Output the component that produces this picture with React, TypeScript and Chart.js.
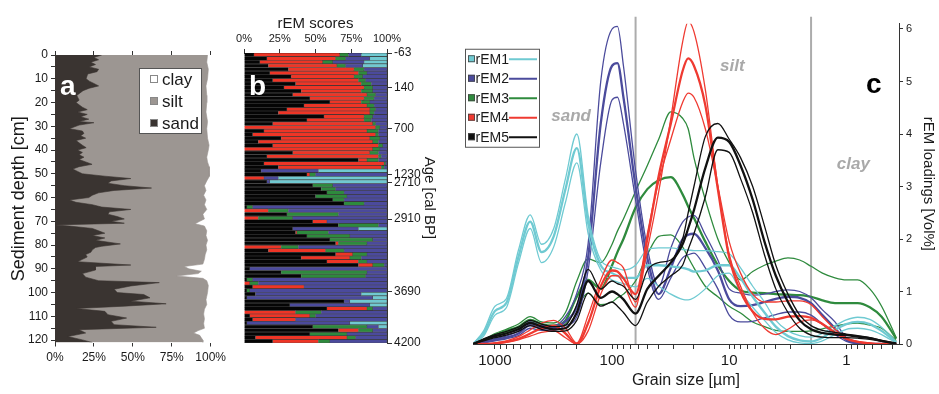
import React, { useEffect, useRef } from 'react';
import { Chart, registerables } from 'chart.js';

Chart.register(...registerables);

const FONT = "'Liberation Sans', Arial, Helvetica, sans-serif";
const AXIS = '#333333';
const TEXT = '#1a1a1a';

// ---------- a: sand / silt / clay down the core ----------
const SAND = '#3a3431';
const SILT = '#9c9692';
const fractionNames = ['clay', 'silt', 'sand'];

const sandDepth = [0, 1, 2, 3, 4, 5, 6, 7, 8, 10, 11, 12, 13, 14, 15, 17, 19, 20, 22, 23, 24, 25, 26, 27, 28, 28.5, 29.5, 31, 32, 33, 34, 35, 36, 38, 39, 40, 41, 42, 43, 44, 45, 46, 47, 48, 49, 50, 51, 52, 53, 54, 55, 56, 57, 58, 59, 60, 61, 62, 63, 64, 65, 66, 67, 68, 69, 70, 70.8, 71.5, 72, 73, 74, 75, 76, 77, 78, 79.5, 80.5, 81, 82, 83, 84, 85, 86, 87, 88.4, 89, 90.5, 92, 93.5, 95, 95.8, 97.2, 98.6, 100, 100.8, 102.2, 103.6, 104.7, 105.7, 106.7, 107.9, 109.3, 110.7, 112.1, 113.5, 114.6, 115.6, 117, 118.5, 119.9, 121];
const sandPct = [30, 25, 28, 23, 26, 22, 28, 27, 21, 20, 22, 25, 28, 22, 18, 14, 15.5, 13.5, 17.6, 20.7, 14.5, 20.7, 16.5, 21.7, 15.5, 25, 15.5, 9.3, 17.6, 18.6, 16.5, 19.7, 13.5, 17.6, 20, 14.5, 17.6, 15.5, 18.6, 15.5, 19.7, 23.8, 15.5, 11.4, 14.5, 17.6, 32, 48.7, 36, 34, 44.5, 62, 38, 28, 24, 21.7, 9.3, 13.5, 24, 30, 48.7, 35, 34, 40, 44.5, 36, 44.5, 0, 9.3, 24, 28, 32, 24, 32, 26, 42, 30, 26, 24, 23, 19.7, 20.7, 17.6, 14.5, 48.7, 26, 26, 17.6, 19.7, 28, 67, 48.7, 38, 40, 57, 61, 48.7, 71.4, 44.5, 13.5, 32, 34, 46, 36, 38, 65, 15.5, 19.7, 8.3, 17.6, 24];

const finesDepth = [0, 3, 6, 10, 13, 17, 20, 24, 28, 31, 35, 38, 40, 43, 45, 47, 49, 51, 53, 55, 57, 59, 61, 63, 65, 67, 69, 70, 71, 72, 74, 76, 78, 80, 82, 84, 86, 88, 89, 90, 91, 92, 93, 94, 95, 97, 100, 103, 105, 107, 109, 111, 113, 115, 116, 117, 118, 119, 120, 121];
const sandSiltPct = [98, 97.5, 98.5, 98, 97, 97.5, 97.5, 97, 98, 97.5, 98, 99, 98.5, 97.5, 98, 99, 99.5, 99, 97.5, 96, 97, 95.5, 97, 96, 97.5, 95, 96, 93, 90, 96, 97.5, 97, 98, 97, 97.5, 96.5, 96, 95, 83, 86, 94, 92, 78, 95, 97.5, 98.5, 98, 97, 97.5, 96, 95.5, 96, 95.5, 96, 92, 89, 93, 94, 95, 95];

// ---------- b: rEM scores per sample ----------
const SCORE_COLORS = ['#050505', '#ee3526', '#2e8a3d', '#4b4a9c', '#70c9d1'];
const rem5Score = [7, 16, 11, 17, 31, 18, 33, 20, 36, 28, 40, 34, 46, 60, 42, 30, 24, 56, 44, 20, 0, 14, 6, 26, 10, 20, 0, 34, 16, 80, 14, 24, 12, 44, 0, 16, 48, 54, 58, 50, 62, 70, 2, 0, 30, 0, 48, 66, 34, 36, 44, 60, 64, 0, 17, 64, 40, 58, 80, 4, 26, 40, 2, 0, 6, 2, 8, 2, 70, 32, 58, 0, 4, 6, 2, 48, 66, 46, 8, 20];
const rem4Score = [60, 48, 44, 48, 46, 62, 44, 60, 46, 56, 42, 52, 38, 22, 44, 58, 64, 28, 40, 70, 92, 72, 86, 62, 80, 74, 90, 54, 78, 6, 84, 72, 0, 2, 14, 0, 0, 0, 0, 0, 0, 0, 0, 17, 0, 10, 10, 0, 0, 1, 0, 0, 2, 26, 40, 12, 34, 22, 10, 0, 0, 0, 0, 4, 36, 0, 0, 0, 0, 0, 28, 36, 42, 30, 0, 0, 14, 0, 64, 32];
const rem3Score = [6, 7, 7, 6, 7, 6, 6, 5, 7, 6, 8, 6, 7, 6, 5, 4, 3, 6, 5, 2, 3, 8, 2, 7, 4, 3, 5, 6, 2, 8, 1, 2, 0, 4, 0, 0, 14, 10, 12, 22, 8, 14, 4, 14, 36, 24, 0, 28, 0, 22, 30, 30, 20, 12, 13, 10, 8, 6, 8, 0, 60, 45, 4, 6, 0, 2, 0, 0, 0, 0, 4, 18, 4, 0, 0, 38, 10, 26, 6, 8];
const rem2Score = [9, 17, 22, 12, 16, 14, 17, 15, 11, 10, 10, 8, 9, 12, 9, 8, 9, 10, 11, 8, 5, 6, 6, 5, 6, 3, 5, 6, 4, 6, 1, 2, 40, 50, 10, 2, 38, 36, 30, 28, 30, 16, 94, 69, 34, 66, 42, 6, 46, 41, 26, 10, 14, 62, 30, 14, 18, 14, 2, 96, 14, 15, 94, 90, 58, 96, 74, 88, 4, 56, 10, 46, 50, 64, 72, 8, 10, 28, 22, 40];
const rem1Score = [18, 12, 16, 17, 0, 0, 0, 0, 0, 0, 0, 0, 0, 0, 0, 0, 0, 0, 0, 0, 0, 0, 0, 0, 0, 0, 0, 0, 0, 0, 0, 0, 48, 0, 76, 82, 0, 0, 0, 0, 0, 0, 0, 0, 0, 0, 0, 0, 20, 0, 0, 0, 0, 0, 0, 0, 0, 0, 0, 0, 0, 0, 0, 0, 0, 0, 18, 10, 26, 12, 0, 0, 0, 0, 26, 6, 0, 0, 0, 0];
const ageLabels = ['-63', '140', '700', '1230', '2710', '2910', '3690', '4200'];
const ageDepth = [0, 14.6, 31.7, 50.9, 54.2, 69.3, 99.7, 121];

// ---------- c: rEM loadings (mean with upper and lower bounds) ----------
const grainSize = [1540, 1250, 1000, 800, 630, 500, 400, 315, 250, 200, 160, 125, 100, 90, 80, 63, 50, 40, 31.5, 25, 22.4, 20, 16, 12.5, 10, 8, 6.3, 5, 4, 3.15, 2.5, 2, 1.6, 1.25, 1, 0.8, 0.63, 0.5, 0.375];

const rem1Upper = [0, 0.25, 0.72, 0.86, 1.79, 2.46, 1.9, 2.2, 3.15, 4.0, 2.45, 1.6, 1.47, 1.44, 1.41, 1.5, 1.8, 1.83, 1.83, 1.8, 1.79, 1.78, 1.78, 1.76, 1.72, 1.45, 1.1, 0.8, 0.45, 0.25, 0.16, 0.13, 0.2, 0.35, 0.46, 0.51, 0.47, 0.32, 0.04];
const rem1Mean = [0, 0.2, 0.63, 0.78, 1.66, 2.33, 1.75, 2.05, 2.95, 3.73, 2.3, 1.5, 1.35, 1.3, 1.26, 1.26, 1.5, 1.5, 1.48, 1.45, 1.42, 1.38, 1.4, 1.5, 1.5, 1.25, 0.9, 0.6, 0.33, 0.15, 0.07, 0.05, 0.12, 0.27, 0.38, 0.42, 0.38, 0.25, 0.03];
const rem1Lower = [0, 0.15, 0.55, 0.69, 1.54, 2.2, 1.55, 1.85, 2.7, 3.45, 2.1, 1.41, 1.22, 1.18, 1.15, 1.09, 1.25, 1.1, 0.95, 0.85, 0.84, 0.88, 1.05, 1.3, 1.35, 1.0, 0.7, 0.45, 0.22, 0.08, 0.02, 0.01, 0.06, 0.18, 0.28, 0.3, 0.27, 0.18, 0.02];

const rem2Upper = [0, 0.04, 0.1, 0.15, 0.25, 0.42, 0.35, 0.35, 0.52, 0.97, 1.92, 5.0, 6.0, 6.05, 5.3, 3.3, 1.83, 1.1, 1.83, 2.32, 2.42, 2.45, 2.08, 1.6, 1.05, 0.97, 0.93, 0.95, 1.0, 1.03, 1.0, 0.88, 0.65, 0.42, 0.12, 0.02, 0, 0, 0];
const rem2Mean = [0, 0.03, 0.08, 0.12, 0.2, 0.36, 0.3, 0.3, 0.43, 0.71, 1.66, 4.2, 5.3, 5.35, 4.7, 3.0, 1.64, 0.95, 1.45, 2.0, 2.08, 2.1, 1.83, 1.4, 0.85, 0.72, 0.74, 0.8, 0.86, 0.9, 0.88, 0.78, 0.55, 0.3, 0.08, 0.01, 0, 0, 0];
const rem2Lower = [0, 0.02, 0.06, 0.1, 0.16, 0.3, 0.26, 0.26, 0.35, 0.52, 1.41, 3.45, 4.65, 4.7, 4.2, 2.75, 1.45, 0.85, 1.26, 1.64, 1.7, 1.73, 1.45, 1.05, 0.55, 0.42, 0.43, 0.5, 0.56, 0.61, 0.61, 0.55, 0.38, 0.18, 0.05, 0.01, 0, 0, 0];

const rem3Upper = [0, 0.08, 0.2, 0.28, 0.38, 0.52, 0.42, 0.4, 0.6, 1.2, 1.62, 1.55, 1.9, 2.15, 2.38, 2.91, 3.4, 3.9, 4.42, 4.3, 4.1, 3.55, 2.75, 2.0, 1.55, 1.22, 1.38, 1.5, 1.58, 1.64, 1.6, 1.48, 1.35, 1.26, 1.22, 1.22, 1.05, 0.72, 0.12];
const rem3Mean = [0, 0.06, 0.17, 0.25, 0.33, 0.46, 0.38, 0.35, 0.45, 0.9, 1.22, 1.05, 1.5, 1.75, 2.0, 2.6, 2.95, 3.12, 3.18, 2.85, 2.62, 2.4, 1.95, 1.5, 1.2, 1.02, 0.98, 0.97, 0.95, 0.94, 0.93, 0.9, 0.83, 0.78, 0.78, 0.78, 0.7, 0.52, 0.1];
const rem3Lower = [0, 0.05, 0.14, 0.22, 0.3, 0.42, 0.35, 0.32, 0.38, 0.7, 0.97, 0.75, 0.8, 0.88, 0.95, 1.2, 1.7, 2.05, 2.08, 1.85, 1.65, 1.45, 1.1, 0.9, 0.72, 0.59, 0.42, 0.33, 0.26, 0.24, 0.24, 0.25, 0.29, 0.34, 0.38, 0.4, 0.36, 0.3, 0.06];

const rem4Upper = [0, 0, 0.02, 0.06, 0.14, 0.27, 0.4, 0.45, 0.3, 0.02, 0.55, 1.22, 1.6, 1.55, 1.45, 0.8, 1.8, 2.9, 4.3, 5.75, 6.14, 5.95, 4.85, 3.0, 1.7, 1.1, 0.6, 0.3, 0.18, 0.28, 0.42, 0.46, 0.38, 0.22, 0.1, 0.04, 0.01, 0, 0];
const rem4Mean = [0, 0, 0.01, 0.04, 0.1, 0.2, 0.3, 0.35, 0.2, 0, 0.4, 1.1, 1.4, 1.38, 1.25, 0.95, 2.0, 3.2, 4.2, 5.2, 5.44, 5.3, 4.55, 2.95, 1.65, 1.0, 0.62, 0.48, 0.47, 0.52, 0.53, 0.5, 0.38, 0.22, 0.1, 0.04, 0.01, 0, 0];
const rem4Lower = [0, 0, 0.01, 0.03, 0.08, 0.15, 0.22, 0.25, 0.12, 0, 0.25, 0.95, 1.3, 1.3, 1.15, 0.7, 2.1, 3.1, 3.9, 4.6, 4.78, 4.7, 4.1, 3.0, 1.95, 1.35, 0.95, 0.8, 0.8, 0.82, 0.82, 0.75, 0.52, 0.28, 0.12, 0.05, 0.02, 0, 0];

const rem5Upper = [0, 0.1, 0.18, 0.24, 0.32, 0.45, 0.38, 0.33, 0.36, 0.75, 1.42, 1.05, 1.2, 1.15, 1.1, 0.85, 1.4, 1.55, 1.6, 2.0, 2.5, 3.0, 3.95, 4.2, 3.9, 3.55, 3.0, 2.25, 1.5, 0.95, 0.55, 0.35, 0.26, 0.22, 0.19, 0.16, 0.12, 0.07, 0.01];
const rem5Mean = [0, 0.08, 0.15, 0.2, 0.28, 0.4, 0.33, 0.28, 0.3, 0.6, 1.2, 0.88, 1.0, 0.95, 0.85, 0.58, 1.05, 1.3, 1.55, 1.9, 2.2, 2.55, 3.35, 3.93, 3.85, 3.4, 2.75, 1.95, 1.3, 0.8, 0.45, 0.28, 0.21, 0.18, 0.17, 0.14, 0.11, 0.06, 0.01];
const rem5Lower = [0, 0.06, 0.12, 0.17, 0.24, 0.35, 0.28, 0.24, 0.25, 0.45, 0.97, 0.72, 0.8, 0.72, 0.6, 0.35, 0.8, 1.1, 1.3, 1.5, 1.8, 2.1, 2.8, 3.7, 3.65, 3.15, 2.5, 1.7, 1.05, 0.6, 0.3, 0.17, 0.13, 0.12, 0.12, 0.11, 0.09, 0.05, 0];

const remNames = ['rEM1', 'rEM2', 'rEM3', 'rEM4', 'rEM5'];
const remColors = ['#6fcad2', '#4b4b9c', '#2f8b3e', '#ef3a31', '#111111'];
const remCurves = [
  [rem1Upper, rem1Mean, rem1Lower],
  [rem2Upper, rem2Mean, rem2Lower],
  [rem3Upper, rem3Mean, rem3Lower],
  [rem4Upper, rem4Mean, rem4Lower],
  [rem5Upper, rem5Mean, rem5Lower],
];
// class limits (µm) and the word placed in each class
const classBoundaries = [63, 2];
const classWords = [
  { text: 'sand', size: 224, loading: 4.34 },
  { text: 'silt', size: 9.4, loading: 5.28 },
  { text: 'clay', size: 0.87, loading: 3.43 },
];

const tickFont = (size: number) => ({ family: FONT, size });

// ---------- a ----------
const sectionADecor = {
  id: 'sectionADecor',
  afterDraw(chart: any) {
    const { ctx, chartArea: a } = chart;
    ctx.save();
    const bx = a.left + 84;
    const by = a.top + 13;
    ctx.fillStyle = '#ffffff';
    ctx.fillRect(bx, by, 62, 65);
    ctx.strokeStyle = '#555';
    ctx.lineWidth = 1;
    ctx.strokeRect(bx + 0.5, by + 0.5, 62, 65);
    const swatch = ['#ffffff', SILT, SAND];
    fractionNames.forEach((name, i) => {
      const cy = by + 11 + i * 22;
      ctx.fillStyle = swatch[i];
      ctx.fillRect(bx + 11, cy - 4, 8, 8);
      ctx.strokeStyle = '#888';
      ctx.strokeRect(bx + 11.5, cy - 3.5, 7, 7);
      ctx.fillStyle = TEXT;
      ctx.font = `17px ${FONT}`;
      ctx.textBaseline = 'middle';
      ctx.fillText(name, bx + 23, cy + 1);
    });
    ctx.fillStyle = '#ffffff';
    ctx.font = `bold 28px ${FONT}`;
    ctx.textBaseline = 'alphabetic';
    ctx.fillText('a', a.left + 5, a.top + 40);
    ctx.restore();
  },
};

function SectionA() {
  const ref = useRef<HTMLCanvasElement>(null);
  useEffect(() => {
    const chart = new Chart(ref.current as HTMLCanvasElement, {
      type: 'line',
      data: {
        datasets: [
          {
            label: 'sand',
            data: sandDepth.map((d, i) => ({ x: sandPct[i], y: d })),
            borderColor: SAND,
            backgroundColor: SAND,
            borderWidth: 0.6,
            pointRadius: 0,
            fill: 'origin',
            tension: 0,
          },
          {
            label: 'silt',
            data: finesDepth.map((d, i) => ({ x: sandSiltPct[i], y: d })),
            borderColor: SILT,
            backgroundColor: SILT,
            borderWidth: 0.6,
            pointRadius: 0,
            fill: 'origin',
            tension: 0,
          },
        ],
      },
      options: {
        indexAxis: 'y',
        animation: false,
        responsive: false,
        devicePixelRatio: 1,
        layout: { padding: { left: 0, right: 14, top: 49, bottom: 21.5 } },
        plugins: { legend: { display: false }, tooltip: { enabled: false } },
        scales: {
          x: {
            type: 'linear',
            position: 'bottom',
            min: 0,
            max: 100,
            ticks: { stepSize: 25, callback: (v: any) => `${v}%`, font: tickFont(12), color: TEXT, padding: 4, maxRotation: 0 },
            grid: { drawOnChartArea: false, tickLength: 4, color: AXIS },
            border: { display: false },
            afterFit: (s: any) => { s.height = 30; },
          },
          xTop: {
            type: 'linear',
            position: 'top',
            min: 0,
            max: 100,
            ticks: { display: false, stepSize: 25 },
            grid: { drawOnChartArea: false, tickLength: 4, color: AXIS },
            border: { display: false },
            afterFit: (s: any) => { s.height = 6; },
          },
          y: {
            type: 'linear',
            reverse: true,
            min: 0,
            max: 121,
            ticks: {
              stepSize: 5,
              includeBounds: false,
              autoSkip: false,
              callback: (v: any) => (v % 10 === 0 ? String(v) : ''),
              font: tickFont(12),
              color: TEXT,
              padding: 3,
            },
            title: { display: true, text: 'Sediment depth [cm]', font: tickFont(18), color: TEXT, padding: { top: 8, bottom: 0 } },
            grid: { drawOnChartArea: false, tickLength: 4, color: AXIS },
            border: { display: true, color: AXIS },
            afterFit: (s: any) => { s.width = 55; },
          },
        },
      } as any,
      plugins: [sectionADecor],
    });
    return () => chart.destroy();
  }, []);
  return <canvas ref={ref} width={230} height={394} style={{ position: 'absolute', left: 0, top: 0 }} />;
}

// ---------- b ----------
const sectionBDecor = {
  id: 'sectionBDecor',
  afterDraw(chart: any) {
    const { ctx, chartArea: a } = chart;
    ctx.save();
    ctx.fillStyle = '#ffffff';
    ctx.font = `bold 28px ${FONT}`;
    ctx.fillText('b', a.left + 5, a.top + 42);
    ctx.restore();
  },
};

function SectionB() {
  const ref = useRef<HTMLCanvasElement>(null);
  useEffect(() => {
    const scores = [rem5Score, rem4Score, rem3Score, rem2Score, rem1Score];
    const names = ['rEM5', 'rEM4', 'rEM3', 'rEM2', 'rEM1'];
    const chart = new Chart(ref.current as HTMLCanvasElement, {
      type: 'bar',
      data: {
        labels: rem5Score.map((_, i) => String(i + 1)),
        datasets: scores.map((s, k) => ({
          label: names[k],
          data: s,
          backgroundColor: SCORE_COLORS[k],
          borderColor: 'rgba(25,25,25,0.75)',
          borderWidth: 0.6,
          barPercentage: 1,
          categoryPercentage: 1,
        })),
      },
      options: {
        indexAxis: 'y',
        animation: false,
        responsive: false,
        devicePixelRatio: 1,
        layout: { padding: { left: 14, right: 0, top: 6, bottom: 51 } },
        plugins: { legend: { display: false }, tooltip: { enabled: false } },
        scales: {
          x: {
            position: 'top',
            stacked: true,
            min: 0,
            max: 100,
            ticks: { stepSize: 25, callback: (v: any) => `${v}%`, font: tickFont(11), color: TEXT, padding: 3, maxRotation: 0 },
            title: { display: true, text: 'rEM scores', font: tickFont(15), color: TEXT, padding: { top: 9, bottom: 0 } },
            grid: { drawOnChartArea: false, tickLength: 4, color: AXIS },
            border: { display: true, color: AXIS },
            afterFit: (s: any) => { s.height = 47; },
          },
          y: { stacked: true, display: false },
          age: {
            type: 'linear',
            axis: 'y',
            position: 'right',
            reverse: true,
            offset: false,
            min: 0,
            max: 121,
            afterBuildTicks: (s: any) => { s.ticks = ageDepth.map((v) => ({ value: v })); },
            ticks: {
              autoSkip: false,
              callback: (v: any) => ageLabels[ageDepth.indexOf(v)],
              font: tickFont(12),
              color: TEXT,
              padding: 2,
            },
            title: { display: true, text: 'Age [cal BP]', font: tickFont(15), color: TEXT, padding: { top: 2, bottom: 2 } },
            grid: { drawOnChartArea: false, offset: false, tickLength: 5, color: AXIS },
            border: { display: true, color: AXIS },
            afterFit: (s: any) => { s.width = 53; },
          },
        },
      } as any,
      plugins: [sectionBDecor],
    });
    return () => chart.destroy();
  }, []);
  return <canvas ref={ref} width={210} height={394} style={{ position: 'absolute', left: 230, top: 0 }} />;
}

// ---------- c ----------
const sectionCDecor = {
  id: 'sectionCDecor',
  beforeDatasetsDraw(chart: any) {
    const { ctx, chartArea: a, scales } = chart;
    ctx.save();
    ctx.strokeStyle = '#acacac';
    ctx.lineWidth = 2;
    classBoundaries.forEach((b) => {
      const x = scales.x.getPixelForValue(b);
      ctx.beginPath();
      ctx.moveTo(x, a.top - 7);
      ctx.lineTo(x, a.bottom);
      ctx.stroke();
    });
    ctx.fillStyle = '#a9a9a9';
    ctx.font = `italic bold 17px ${FONT}`;
    ctx.textAlign = 'center';
    ctx.textBaseline = 'middle';
    classWords.forEach((w) => {
      ctx.fillText(w.text, scales.x.getPixelForValue(w.size), scales.y.getPixelForValue(w.loading));
    });
    ctx.restore();
  },
  afterDraw(chart: any) {
    const { ctx, chartArea: a } = chart;
    ctx.save();
    const bx = a.left - 8;
    const by = a.top + 25;
    const bw = 74;
    const bh = 98;
    ctx.fillStyle = '#ffffff';
    ctx.fillRect(bx, by, bw, bh);
    ctx.strokeStyle = '#555';
    ctx.lineWidth = 1;
    ctx.strokeRect(bx + 0.5, by + 0.5, bw, bh);
    ctx.font = `14px ${FONT}`;
    ctx.textBaseline = 'middle';
    remNames.forEach((name, i) => {
      const cy = by + 10.5 + i * 19.5;
      ctx.fillStyle = remColors[i];
      ctx.fillRect(bx + 3, cy - 4, 7, 7);
      ctx.strokeStyle = '#444';
      ctx.lineWidth = 0.8;
      ctx.strokeRect(bx + 3.5, cy - 3.5, 6, 6);
      ctx.fillStyle = TEXT;
      ctx.fillText(name, bx + 10.5, cy + 0.5);
      const tw = ctx.measureText(name).width;
      ctx.strokeStyle = remColors[i];
      ctx.lineWidth = 2;
      ctx.beginPath();
      ctx.moveTo(bx + 10.5 + tw, cy);
      ctx.lineTo(bx + 72, cy);
      ctx.stroke();
    });
    ctx.fillStyle = '#000';
    ctx.font = `bold 28px ${FONT}`;
    ctx.textBaseline = 'alphabetic';
    ctx.textAlign = 'left';
    ctx.fillText('c', a.right - 33, a.top + 69);
    ctx.restore();
  },
};

function SectionC() {
  const ref = useRef<HTMLCanvasElement>(null);
  useEffect(() => {
    // black drawn last so it sits on top
    const drawOrder = [4, 3, 0, 1, 2];
    const datasets: any[] = [];
    drawOrder.forEach((k) => {
      remCurves[k].forEach((curve, j) => {
        datasets.push({
          label: `${remNames[k]}-${j}`,
          data: grainSize.map((g, i) => ({ x: g, y: curve[i] })),
          borderColor: remColors[k],
          borderWidth: j === 1 ? 2.3 : 1.3,
          pointRadius: 0,
          fill: false,
          cubicInterpolationMode: 'monotone',
        });
      });
    });
    const tickValues: number[] = [];
    for (let e = -1; e <= 3; e++) {
      for (let m = 1; m <= 9; m++) {
        const v = m * Math.pow(10, e);
        if (v >= 0.355 && v <= 1540) tickValues.push(v);
      }
    }
    const chart = new Chart(ref.current as HTMLCanvasElement, {
      type: 'line',
      data: { datasets },
      options: {
        animation: false,
        responsive: false,
        devicePixelRatio: 1,
        layout: { padding: { left: 33, right: 0, top: 23.75, bottom: 0 } },
        plugins: { legend: { display: false }, tooltip: { enabled: false } },
        scales: {
          x: {
            type: 'logarithmic',
            reverse: true,
            min: 0.355,
            max: 1540,
            afterBuildTicks: (s: any) => { s.ticks = tickValues.map((v) => ({ value: v })); },
            ticks: {
              autoSkip: false,
              maxRotation: 0,
              callback: (v: any) => {
                const l = Math.log10(v);
                return Math.abs(l - Math.round(l)) < 1e-9 ? String(Math.round(v)) : '';
              },
              font: tickFont(15),
              color: TEXT,
              padding: 3,
            },
            title: { display: true, text: 'Grain size [µm]', font: tickFont(16), color: TEXT, padding: { top: 0, bottom: 4 } },
            grid: { drawOnChartArea: false, tickLength: 5, color: AXIS },
            border: { display: true, color: AXIS },
            afterFit: (s: any) => { s.height = 50; },
          },
          y: {
            type: 'linear',
            position: 'right',
            min: 0,
            max: 6.1,
            ticks: { stepSize: 1, includeBounds: false, font: tickFont(11), color: TEXT, padding: 3 },
            title: { display: true, text: 'rEM loadings [Vol%]', font: tickFont(15), color: TEXT, padding: { top: 2, bottom: 3 } },
            grid: { drawOnChartArea: false, tickLength: 4, color: AXIS },
            border: { display: true, color: AXIS },
            afterFit: (s: any) => { s.width = 40; },
          },
        },
      } as any,
      plugins: [sectionCDecor],
    });
    return () => chart.destroy();
  }, []);
  return <canvas ref={ref} width={499} height={394} style={{ position: 'absolute', left: 440, top: 0 }} />;
}

export default function App() {
  return (
    <div style={{ position: 'absolute', left: 0, top: 0, width: 939, height: 394, background: '#ffffff', overflow: 'hidden' }}>
      <SectionA />
      <SectionB />
      <SectionC />
    </div>
  );
}
